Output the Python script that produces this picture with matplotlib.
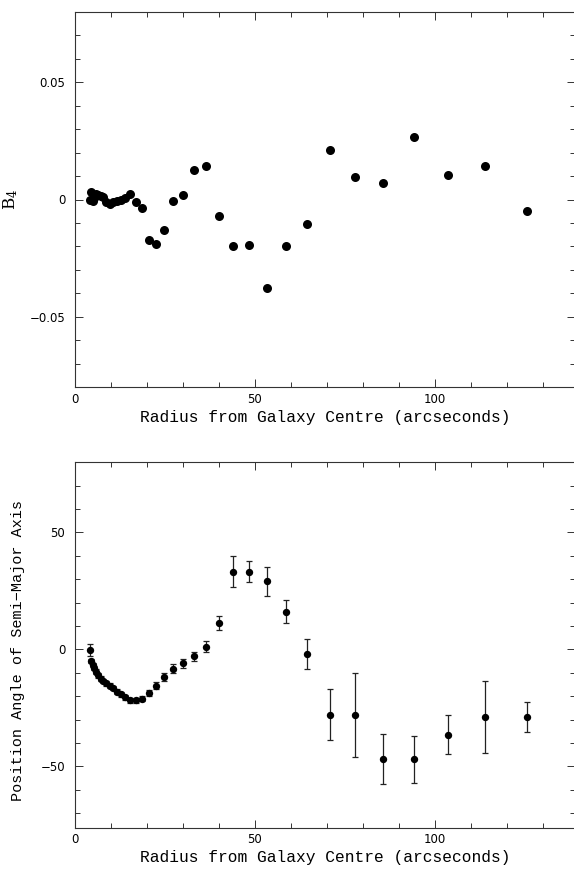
import matplotlib
matplotlib.use("Agg")
import matplotlib.pyplot as plt
from matplotlib.ticker import MultipleLocator, FixedLocator, FixedFormatter

plt.rcParams['mathtext.default'] = 'regular'

# Radii (arcsec)
radius = [4.05, 4.45, 4.9, 5.4, 5.9, 6.5, 7.2, 7.9, 8.7, 9.6, 10.5, 11.6, 12.7,
          14.0, 15.4, 16.9, 18.6, 20.5, 22.6, 24.8, 27.3, 30.0, 33.1, 36.3,
          40.0, 44.0, 48.3, 53.2, 58.5, 64.4, 70.8, 77.9, 85.6, 94.3, 103.6,
          114.0, 125.5]

# B4 coefficient
b4 = [0.0000, 0.0033, -0.0008, 0.0005, 0.0025, 0.0020, 0.0017, 0.0010,
      -0.0010, -0.0020, -0.0012, -0.0008, -0.0002, 0.0008, 0.0022, -0.0011,
      -0.0037, -0.0173, -0.0189, -0.0131, -0.0007, 0.0019, 0.0125, 0.0141,
      -0.0071, -0.0200, -0.0196, -0.0378, -0.0200, -0.0104, 0.0213, 0.0098,
      0.0072, 0.0267, 0.0105, 0.0145, -0.0049]

# Position angle of semi-major axis (deg) and its error
pa = [-0.3, -4.9, -6.7, -8.0, -9.5, -11.0, -12.5, -13.5, -14.5, -15.5, -16.5,
      -18.0, -19.2, -20.5, -21.7, -21.8, -21.0, -18.5, -15.5, -11.7, -8.3,
      -6.0, -2.9, 1.1, 11.5, 33.3, 33.3, 29.2, 16.2, -1.9, -27.9, -27.9,
      -47.0, -47.0, -36.5, -28.9, -28.9]
pa_err = [2.5, 1.0, 1.0, 1.0, 1.0, 1.0, 1.0, 1.0, 1.0, 1.0, 1.0, 1.0, 1.0,
          1.0, 1.0, 1.0, 1.2, 1.3, 1.5, 1.7, 1.9, 2.0, 2.0, 2.3, 3.0, 6.6,
          4.4, 6.2, 5.1, 6.3, 11.0, 17.9, 10.7, 10.0, 8.3, 15.4, 6.5]

xticks = [0, 50, 100]
xtick_labels = ['0', '50', '100']
b4_ticks = [-0.05, 0, 0.05]
b4_tick_labels = ['\u22120.05', '0', '0.05']
pa_ticks = [-50, 0, 50]
pa_tick_labels = ['\u221250', '0', '50']

W, H = 574, 876
fig = plt.figure(figsize=(W / 100, H / 100), dpi=100)

left = 75 / W
width = 500 / W
ax1 = fig.add_axes([left, 1 - 387 / H, width, 375 / H])
ax2 = fig.add_axes([left, 1 - 827.7 / H, width, 365.4 / H])

label_font = ['Liberation Mono', 'DejaVu Sans Mono']
spine_col = '#333333'

def style(ax, yt, ytl, yminor):
    ax.set_xlim(0, 138.9)
    ax.xaxis.set_major_locator(FixedLocator(xticks))
    ax.xaxis.set_major_formatter(FixedFormatter(xtick_labels))
    ax.xaxis.set_minor_locator(MultipleLocator(10))
    ax.yaxis.set_major_locator(FixedLocator(yt))
    ax.yaxis.set_major_formatter(FixedFormatter(ytl))
    ax.yaxis.set_minor_locator(MultipleLocator(yminor))
    ax.tick_params(which='both', direction='in', top=True, right=True,
                   color=spine_col, width=0.7)
    ax.tick_params(which='major', length=6, labelsize=8.5)
    ax.tick_params(which='minor', length=3.5)
    ax.tick_params(axis='y', which='major', pad=7)
    ax.tick_params(axis='x', which='major', pad=4)
    for s in ax.spines.values():
        s.set_color(spine_col)
        s.set_linewidth(0.8)
    ax.set_xlabel('Radius from Galaxy Centre (arcseconds)',
                  family=label_font, fontsize=11.7, labelpad=3)

# Top panel
ax1.plot(radius, b4, 'o', color='black', markersize=6.5, markeredgewidth=0)
ax1.set_ylim(-0.08, 0.08)
style(ax1, b4_ticks, b4_tick_labels, 0.01)
ax1.set_ylabel('B$_4$', family='DejaVu Serif', fontsize=12)
ax1.yaxis.set_label_coords(-(75 - 20) / 500, 0.5)

# Bottom panel
ax2.errorbar(radius, pa, yerr=pa_err, fmt='none', ecolor='#222222',
             elinewidth=0.9, capsize=2.4, capthick=0.9)
ax2.plot(radius, pa, 'o', color='black', markersize=5.3, markeredgewidth=0)
ax2.set_ylim(-76.2, 80)
style(ax2, pa_ticks, pa_tick_labels, 10)
ax2.set_ylabel('Position Angle of Semi\u2212Major Axis', family=label_font,
               fontsize=10.9)
ax2.yaxis.set_label_coords(-(75 - 25) / 500, 0.486)

fig.savefig('out.png', dpi=100)
